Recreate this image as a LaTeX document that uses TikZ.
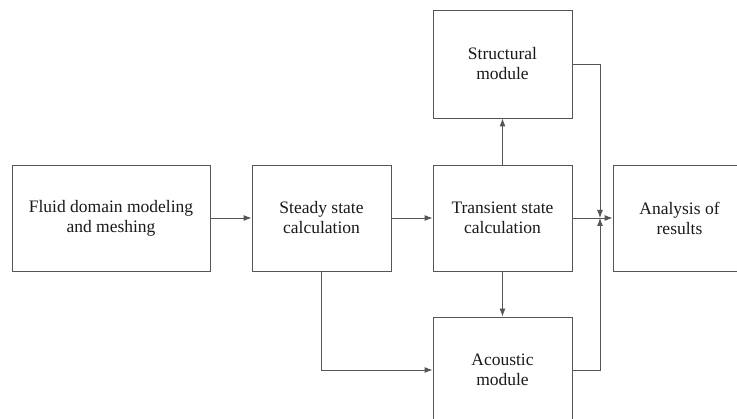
\documentclass[tikz,border=0pt]{standalone}
\usepackage{fontspec}
\setmainfont{Liberation Serif}
\usetikzlibrary{arrows.meta}
\definecolor{linec}{HTML}{555555}
\definecolor{textc}{HTML}{1A1A1A}
\tikzset{
  blockbox/.style={draw=linec, line width=0.9pt, fill=white, text=textc, align=center,
    font=\fontsize{17.5}{20}\selectfont, inner sep=0pt},
  conn/.style={draw=linec, line width=0.9pt, -{Latex[length=8pt,width=6pt]}}
}
\begin{document}
\begin{tikzpicture}[x=1pt,y=-1pt]
\useasboundingbox (0,0) rectangle (737,419);
\clip (0,0) rectangle (737,419);
\node[blockbox, minimum width=198pt, minimum height=106pt] (fluid) at (111,218) {Fluid domain modeling\\and meshing};
\node[blockbox, minimum width=139pt, minimum height=106pt] (steady) at (321.5,218) {Steady state\\calculation};
\node[blockbox, minimum width=139pt, minimum height=106pt] (trans) at (502.5,218) {Transient state\\calculation};
\node[blockbox, minimum width=139pt, minimum height=108pt] (struct) at (502.5,64) {Structural\\module};
\node[blockbox, minimum width=139pt, minimum height=106pt] (acou) at (502.5,370) {Acoustic\\module};
\node[blockbox, minimum width=133pt, minimum height=106pt] (ana) at (679.5,218) {Analysis of\\results};
\coordinate (meet) at (600,218);
\draw[conn] (fluid) -- (steady);
\draw[conn] (steady) -- (trans);
\draw[conn] (trans) -- (struct);
\draw[conn] (trans) -- (acou);
\draw[conn] (steady.south) |- (acou.west);
\draw[conn] (trans.east) -- (ana.west);
\draw[conn] (struct.east) -| (meet);
\draw[conn] (acou.east) -| (meet);
\end{tikzpicture}
\end{document}
